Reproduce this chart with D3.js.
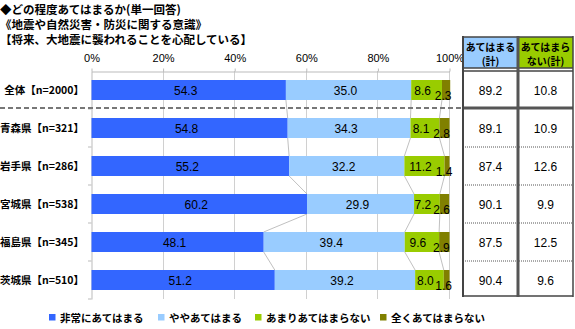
<!DOCTYPE html>
<html><head><meta charset="utf-8">
<script src="https://cdn.jsdelivr.net/npm/d3@7"></script>
<style>
body{margin:0;background:#fff;}
svg{display:block;}
</style></head>
<body>
<script>
const titles = ["◆どの程度あてはまるか(単一回答)", "《地震や自然災害・防災に関する意識》", "【将来、大地震に襲われることを心配している】"];
const categories = ["全体【n=2000】","青森県【n=321】","岩手県【n=286】","宮城県【n=538】","福島県【n=345】","茨城県【n=510】"];
const seriesNames = ["非常にあてはまる","ややあてはまる","あまりあてはまらない","全くあてはまらない"];
const s1 = [54.3, 54.8, 55.2, 60.2, 48.1, 51.2];
const s2 = [35.0, 34.3, 32.2, 29.9, 39.4, 39.2];
const s3 = [8.6, 8.1, 11.2, 7.2, 9.6, 8.0];
const s4 = [2.3, 2.8, 1.4, 2.6, 2.9, 1.6];
const applies = [89.2, 89.1, 87.4, 90.1, 87.5, 90.4];
const notApplies = [10.8, 10.9, 12.6, 9.9, 12.5, 9.6];
const tickValues = [0, 20, 40, 60, 80, 100];
const tableHeaders = [["あてはまる","(計)"],["あてはまら","ない(計)"]];
const colors = ["#3366ff","#99ccff","#99cc00","#808000"];

const W = 575, H = 329;
const svg = d3.select("body").append("svg").attr("width", W).attr("height", H);
const jp = "'Noto Sans CJK JP', sans-serif";
const num = "'Liberation Sans', Arial, sans-serif";

// titles
titles.forEach((t, i) => {
  svg.append("text").attr("x", 0).attr("y", 14 + i * 15)
    .attr("font-family", jp).attr("font-weight", "bold").attr("font-size", 11.5)
    .attr("fill", "#000").text(t);
});

const x = d3.scaleLinear().domain([0, 100]).range([91.5, 449.5]);
const y = d3.scaleBand().domain(categories).range([71, 299]).paddingInner(0.474).paddingOuter(0.237);
const series = [s1, s2, s3, s4];

// gridlines
svg.append("g").selectAll("line").data(tickValues.slice(1)).join("line")
  .attr("x1", d => x(d)).attr("x2", d => x(d)).attr("y1", 71).attr("y2", 299)
  .attr("stroke", "#d0d0d0").attr("stroke-width", 1).attr("shape-rendering", "crispEdges");

// top axis
const topAxis = d3.axisTop(x).tickValues(tickValues).tickFormat(d => d + "%").tickSize(4).tickSizeOuter(0);
const gTop = svg.append("g").attr("transform", "translate(0,71.5)").call(topAxis);
gTop.select(".domain").attr("stroke", "#bbbbbb");
gTop.selectAll(".tick line").attr("stroke", "#bbbbbb").attr("y1", 0).attr("y2", -3);
gTop.selectAll(".tick text").attr("font-family", num).attr("font-size", 11).attr("fill", "#000").attr("dy", 0).attr("y", -10);

// left axis
const yAxis = d3.axisLeft(y).tickSize(0).tickFormat("");
const gLeft = svg.append("g").attr("transform", "translate(91.5,0)").call(yAxis);
gLeft.select(".domain").attr("stroke", "#bbbbbb");
const bounds = d3.range(categories.length + 1).map(i => 71 + i * y.step());
svg.append("g").selectAll("line").data(bounds.slice(1)).join("line")
  .attr("x1", 88).attr("x2", 91.5).attr("y1", d => d).attr("y2", d => d)
  .attr("stroke", "#bbbbbb");

// category labels
svg.append("g").selectAll("text").data(categories).join("text")
  .attr("x", 84).attr("y", d => y(d) + y.bandwidth() / 2 + 4)
  .attr("text-anchor", "end").attr("font-family", jp).attr("font-weight", "bold")
  .attr("font-size", 10.5).attr("fill", "#000").text(d => d);

// stacked data
const stacked = categories.map((c, i) => {
  let acc = 0;
  return series.map((s, k) => { const o = {c, k, v: s[i], x0: acc, x1: acc + s[i]}; acc += s[i]; return o; });
});

// connector lines
const conn = [];
for (let i = 0; i < categories.length - 1; i++) {
  for (let k = 0; k < 3; k++) {
    conn.push({a: stacked[i][k].x1, b: stacked[i + 1][k].x1, y0: y(categories[i]) + y.bandwidth(), y1: y(categories[i + 1])});
  }
}
svg.append("g").selectAll("line").data(conn).join("line")
  .attr("x1", d => x(d.a)).attr("x2", d => x(d.b)).attr("y1", d => d.y0).attr("y2", d => d.y1)
  .attr("stroke", "#b0b0b0").attr("stroke-width", 0.8);

// bars
const labelShift = [-3, -3, -4, -3];
const gBars = svg.append("g");
stacked.forEach(row => {
  gBars.selectAll(null).data(row).join("rect")
    .attr("x", d => x(d.x0)).attr("width", d => x(d.x1) - x(d.x0))
    .attr("y", d => y(d.c)).attr("height", y.bandwidth())
    .attr("fill", d => colors[d.k]);
  gBars.selectAll(null).data(row).join("text")
    .attr("x", d => (x(d.x0) + x(d.x1)) / 2 + labelShift[d.k])
    .attr("y", d => y(d.c) + y.bandwidth() / 2 + 4.5 + (d.k === 3 ? 5.5 : 0))
    .attr("text-anchor", "middle").attr("font-family", num).attr("font-size", 12)
    .attr("fill", "#000").text(d => d.v.toFixed(1));
});

// dashed separator
svg.append("line").attr("x1", 0).attr("x2", 462).attr("y1", 108).attr("y2", 108)
  .attr("stroke", "#777").attr("stroke-width", 2).attr("stroke-dasharray", "5,3");

// table
const cols = [{x0: 463, x1: 518, fill: "#99ccff", vals: applies}, {x0: 518, x1: 573, fill: "#99cc00", vals: notApplies}];
const tg = svg.append("g");
cols.forEach((c, j) => {
  tg.append("rect").attr("x", c.x0).attr("y", 37).attr("width", c.x1 - c.x0).attr("height", 31)
    .attr("fill", c.fill);
  tableHeaders[j].forEach((t, li) => {
    tg.append("text").attr("x", (c.x0 + c.x1) / 2).attr("y", 50.5 + li * 14)
      .attr("text-anchor", "middle").attr("font-family", jp).attr("font-weight", "bold")
      .attr("font-size", 10).attr("fill", "#000").text(t);
  });
  tg.selectAll(null).data(categories).join("text")
    .attr("x", (c.x0 + c.x1) / 2).attr("y", d => y(d) + y.bandwidth() / 2 + 4.5)
    .attr("text-anchor", "middle").attr("font-family", num).attr("font-size", 12)
    .attr("fill", "#000").text((d, i) => c.vals[i].toFixed(1));
});
// table lines
tg.append("line").attr("x1", 463).attr("x2", 573).attr("y1", 37).attr("y2", 37).attr("stroke", "#444").attr("stroke-width", 1.5);
tg.append("line").attr("x1", 463).attr("x2", 573).attr("y1", 68).attr("y2", 68).attr("stroke", "#444").attr("stroke-width", 1.5);
tg.append("line").attr("x1", 463).attr("x2", 573).attr("y1", 71).attr("y2", 71).attr("stroke", "#444").attr("stroke-width", 1.5);
tg.append("line").attr("x1", 463).attr("x2", 573).attr("y1", 108).attr("y2", 108).attr("stroke", "#555").attr("stroke-width", 3);
tg.selectAll(null).data(bounds.slice(2, 6)).join("line")
  .attr("x1", 463).attr("x2", 573).attr("y1", d => d).attr("y2", d => d)
  .attr("stroke", "#555").attr("stroke-width", 1).attr("stroke-dasharray", "1,1");
tg.append("line").attr("x1", 463).attr("x2", 573).attr("y1", 296).attr("y2", 296).attr("stroke", "#444").attr("stroke-width", 1.5);
tg.append("line").attr("x1", 463).attr("x2", 463).attr("y1", 36).attr("y2", 297).attr("stroke", "#444").attr("stroke-width", 2);
tg.append("line").attr("x1", 518).attr("x2", 518).attr("y1", 36).attr("y2", 297).attr("stroke", "#555").attr("stroke-width", 3);
tg.append("line").attr("x1", 573).attr("x2", 573).attr("y1", 36).attr("y2", 297).attr("stroke", "#444").attr("stroke-width", 1.5);

// legend
const legX = [49, 158, 255, 380];
const lg = svg.append("g");
seriesNames.forEach((n, i) => {
  lg.append("rect").attr("x", legX[i]).attr("y", 314).attr("width", 6.5).attr("height", 6.5).attr("fill", colors[i]);
  lg.append("text").attr("x", legX[i] + 11).attr("y", 321.5).attr("font-family", jp).attr("font-weight", "bold")
    .attr("font-size", 10.5).attr("fill", "#000").text(n);
});
</script>
</body></html>
